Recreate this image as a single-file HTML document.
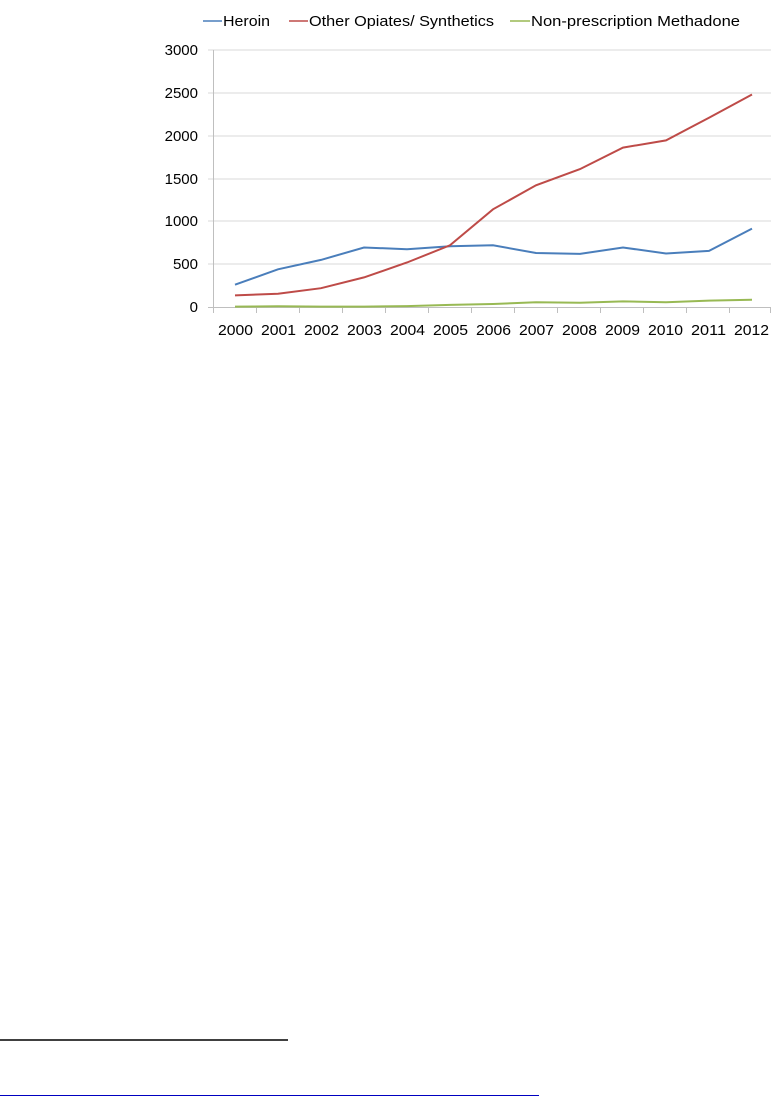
<!DOCTYPE html>
<html><head><meta charset="utf-8"><style>
html,body{margin:0;padding:0;background:#fff;}
svg{display:block;}
text{font-family:"Liberation Sans",sans-serif;fill:#000;}
</style></head><body>
<svg width="782" height="1096" viewBox="0 0 782 1096" xmlns="http://www.w3.org/2000/svg">
<!-- legend -->
<line x1="203" y1="21" x2="222" y2="21" stroke="#4a7ebb" stroke-width="1.5"/>
<text x="223" y="26" font-size="15" textLength="47" lengthAdjust="spacingAndGlyphs">Heroin</text>
<line x1="289" y1="21" x2="308" y2="21" stroke="#be4b48" stroke-width="1.5"/>
<text x="309" y="26" font-size="15" textLength="185" lengthAdjust="spacingAndGlyphs">Other Opiates/ Synthetics</text>
<line x1="510" y1="21" x2="530" y2="21" stroke="#98b954" stroke-width="1.5"/>
<text x="531" y="26" font-size="15" textLength="209" lengthAdjust="spacingAndGlyphs">Non-prescription Methadone</text>
<!-- gridlines -->
<g stroke="#d9d9d9" stroke-width="1">
<line x1="208" y1="50" x2="771" y2="50"/>
<line x1="208" y1="93" x2="771" y2="93"/>
<line x1="208" y1="136" x2="771" y2="136"/>
<line x1="208" y1="179" x2="771" y2="179"/>
<line x1="208" y1="221" x2="771" y2="221"/>
<line x1="208" y1="264" x2="771" y2="264"/>
</g>
<g stroke="#bfbfbf" stroke-width="1">
<line x1="213.5" y1="50" x2="213.5" y2="307"/>
<line x1="208" y1="307.5" x2="771" y2="307.5"/>
<line x1="213.5" y1="307" x2="213.5" y2="313"/>
<line x1="256.5" y1="307" x2="256.5" y2="313"/>
<line x1="299.5" y1="307" x2="299.5" y2="313"/>
<line x1="342.5" y1="307" x2="342.5" y2="313"/>
<line x1="385.5" y1="307" x2="385.5" y2="313"/>
<line x1="428.5" y1="307" x2="428.5" y2="313"/>
<line x1="471.5" y1="307" x2="471.5" y2="313"/>
<line x1="514.5" y1="307" x2="514.5" y2="313"/>
<line x1="557.5" y1="307" x2="557.5" y2="313"/>
<line x1="600.5" y1="307" x2="600.5" y2="313"/>
<line x1="643.5" y1="307" x2="643.5" y2="313"/>
<line x1="686.5" y1="307" x2="686.5" y2="313"/>
<line x1="729.5" y1="307" x2="729.5" y2="313"/>
<line x1="770.5" y1="307" x2="770.5" y2="313"/>
</g>
<!-- y labels -->
<g font-size="15" text-anchor="end">
<text x="198" y="55">3000</text>
<text x="198" y="98">2500</text>
<text x="198" y="141">2000</text>
<text x="198" y="184">1500</text>
<text x="198" y="226">1000</text>
<text x="198" y="269">500</text>
<text x="198" y="312">0</text>
</g>
<!-- x labels -->
<g font-size="15">
<text x="218" y="335" textLength="35" lengthAdjust="spacingAndGlyphs">2000</text>
<text x="261" y="335" textLength="35" lengthAdjust="spacingAndGlyphs">2001</text>
<text x="304" y="335" textLength="35" lengthAdjust="spacingAndGlyphs">2002</text>
<text x="347" y="335" textLength="35" lengthAdjust="spacingAndGlyphs">2003</text>
<text x="390" y="335" textLength="35" lengthAdjust="spacingAndGlyphs">2004</text>
<text x="433" y="335" textLength="35" lengthAdjust="spacingAndGlyphs">2005</text>
<text x="476" y="335" textLength="35" lengthAdjust="spacingAndGlyphs">2006</text>
<text x="519" y="335" textLength="35" lengthAdjust="spacingAndGlyphs">2007</text>
<text x="562" y="335" textLength="35" lengthAdjust="spacingAndGlyphs">2008</text>
<text x="605" y="335" textLength="35" lengthAdjust="spacingAndGlyphs">2009</text>
<text x="648" y="335" textLength="35" lengthAdjust="spacingAndGlyphs">2010</text>
<text x="691" y="335" textLength="35" lengthAdjust="spacingAndGlyphs">2011</text>
<text x="734" y="335" textLength="35" lengthAdjust="spacingAndGlyphs">2012</text>
</g>
<!-- series -->
<polyline fill="none" stroke="#98b954" stroke-width="2" points="235,306.6 278,306.3 321,306.6 364,306.6 407,306.1 450,304.9 493,304 536,302.3 580,302.7 623,301.4 666,302.3 709,300.6 752,299.7"/>
<polyline fill="none" stroke="#4a7ebb" stroke-width="2" points="235,284.7 278,269.3 321,259.9 364,247.5 407,249.2 450,246.2 493,245.3 536,253 580,253.9 623,247.5 666,253.5 709,250.9 752,228.6"/>
<polyline fill="none" stroke="#be4b48" stroke-width="2" points="235,295.4 278,293.7 321,288.2 364,277.4 407,262.5 450,245.3 493,209.3 536,185.3 580,169.1 623,147.6 666,140.4 709,117.7 752,94.5"/>
<!-- footer rules -->
<line x1="0" y1="1040" x2="288" y2="1040" stroke="#000" stroke-width="1.5"/>
<line x1="0" y1="1095.5" x2="539" y2="1095.5" stroke="#0000c0" stroke-width="1"/>
</svg>
</body></html>
